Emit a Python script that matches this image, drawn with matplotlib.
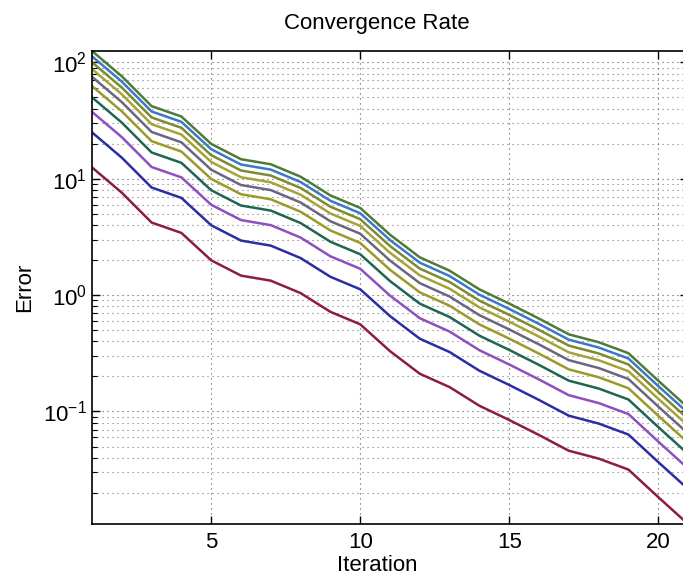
import numpy as np
import matplotlib
matplotlib.use("Agg")
import matplotlib.pyplot as plt
from matplotlib.ticker import LogLocator, NullFormatter

plt.rcParams['font.family'] = ['Liberation Sans', 'DejaVu Sans']
plt.rcParams['mathtext.fontset'] = 'custom'
plt.rcParams['mathtext.rm'] = 'Liberation Sans'

# error of the base run (scale 1)
iterations = np.arange(1, 22)
base_error = [12.5, 7.58, 4.20, 3.42, 1.99, 1.47, 1.33, 1.04, 0.718, 0.561,
              0.330, 0.211, 0.162, 0.112, 0.0845, 0.0628, 0.0460, 0.0394,
              0.0317, 0.0184, 0.0108]
scales = [1, 2, 3, 4, 5, 6, 7, 8, 9, 10]
colors = ['#8c1d40', '#2a2ea3', '#8e4fbf', '#1f6652', '#9a9a2a',
          '#6a6682', '#a3a338', '#7f8a2e', '#3a78c8', '#4e7a3a']

fig = plt.figure(figsize=(6.83, 5.76), dpi=100)
ax = fig.add_axes([92/683, 1 - 524/576, 596/683, 473/576])

for s, c in zip(scales, colors):
    ax.semilogy(iterations, s * np.array(base_error), color=c, lw=1.8)

# tight limits, as in the reference
ax.set_xlim(1, 21)
ax.set_ylim(min(base_error), max(scales) * max(base_error))
ax.set_xticks([5, 10, 15, 20])
ax.yaxis.set_major_locator(LogLocator(base=10, numticks=10))
ax.yaxis.set_minor_locator(LogLocator(base=10, subs=np.arange(2, 10), numticks=20))
ax.yaxis.set_minor_formatter(NullFormatter())

ax.grid(True, which='major', axis='both', linestyle=(0, (1, 3.5)), color='#555555', lw=0.8)
ax.grid(True, which='minor', axis='y', linestyle=(0, (1, 3.5)), color='#777777', lw=0.8)

ax.tick_params(which='both', direction='in', top=True, right=True, labelsize=16)
ax.tick_params(axis='x', pad=6)
ax.tick_params(which='major', length=6, width=1)
ax.tick_params(which='minor', length=3.5, width=0.8)
for sp in ax.spines.values():
    sp.set_linewidth(1.2)

# the picture is cropped on the right, labels sit a bit left of the axes centre
ax.set_title('Convergence Rate', fontsize=16, pad=16, x=0.478)
ax.set_xlabel('Iteration', fontsize=16, labelpad=1, x=0.478)
ax.set_ylabel('Error', fontsize=16, labelpad=6)

fig.savefig('out.png', dpi=100)
